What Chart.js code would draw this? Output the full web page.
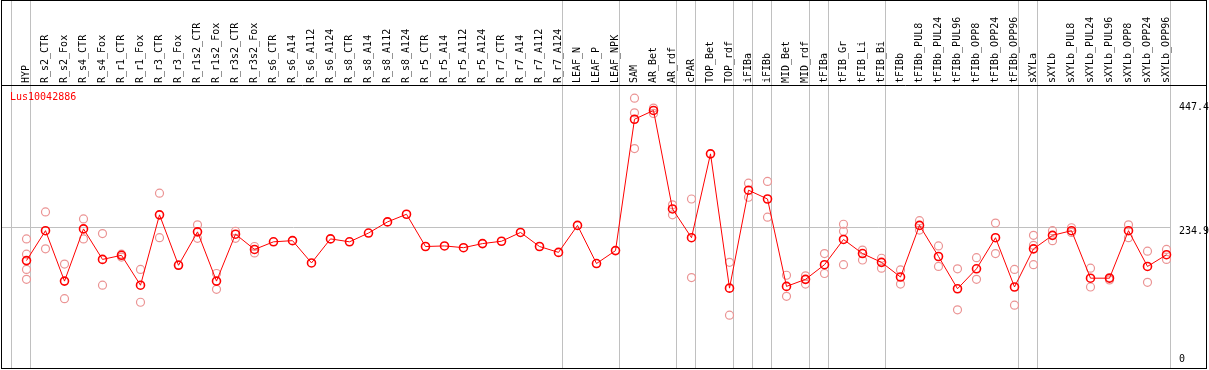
<!DOCTYPE html>
<html>
<head>
<meta charset="utf-8">
<script src="https://cdn.jsdelivr.net/npm/chart.js@4.4.1/dist/chart.umd.min.js"></script>
<style>
  html, body { margin: 0; padding: 0; background: #fff; }
  canvas { display: block; }
</style>
</head>
<body>
<canvas id="chart" width="1209" height="370"></canvas>
<script>
// sample names along the top
const categories = [
    'HYP', 'R_s2_CTR', 'R_s2_Fox', 'R_s4_CTR', 'R_s4_Fox', 'R_r1_CTR', 'R_r1_Fox', 'R_r3_CTR', 'R_r3_Fox',
    'R_r1s2_CTR', 'R_r1s2_Fox', 'R_r3s2_CTR', 'R_r3s2_Fox', 'R_s6_CTR', 'R_s6_A14', 'R_s6_A112', 'R_s6_A124',
    'R_s8_CTR', 'R_s8_A14', 'R_s8_A112', 'R_s8_A124', 'R_r5_CTR', 'R_r5_A14', 'R_r5_A112', 'R_r5_A124',
    'R_r7_CTR', 'R_r7_A14', 'R_r7_A112', 'R_r7_A124', 'LEAF_N', 'LEAF_P', 'LEAF_NPK', 'SAM', 'AR_Bet', 'AR_rdf',
    'cPAR', 'TOP_Bet', 'TOP_rdf', 'iFIBa', 'iFIBb', 'MID_Bet', 'MID_rdf', 'tFIBa', 'tFIB_Gr', 'tFIB_Li', 'tFIB_Bi',
    'tFIBb', 'tFIBb_PUL8', 'tFIBb_PUL24', 'tFIBb_PUL96', 'tFIBb_OPP8', 'tFIBb_OPP24', 'tFIBb_OPP96',
    'sXYLa', 'sXYLb', 'sXYLb_PUL8', 'sXYLb_PUL24', 'sXYLb_PUL96', 'sXYLb_OPP8', 'sXYLb_OPP24', 'sXYLb_OPP96'
];
// mean expression per sample
const means = [
    177, 228, 142, 231, 179, 186, 135, 255, 169, 226, 142, 222, 196, 209, 211, 173, 214,
    209, 224, 243, 256, 201, 202, 199, 206, 210, 225, 201, 191, 237, 172, 194, 418, 433, 265,
    216, 359, 130, 297, 282, 133, 145, 170, 213, 189, 174, 149, 237, 184, 129, 163, 216, 132,
    197, 220, 228, 147, 147, 228, 167, 187
];
// single replicates (light dots)
const replicates = [
    [214, 188, 162, 145], [260, 197], [171, 112], [248, 214], [223, 135], [188, 183], [162, 106], [292, 216], [170],
    [238, 215], [155, 128], [227, 215], [201, 190], [], [], [], [],
    [], [], [], [], [], [], [], [],
    [], [], [], [], [], [], [], [454, 429, 368], [437, 428], [272, 255],
    [282, 148], [], [174, 84], [309, 285], [312, 251], [152, 116], [151, 137], [189, 155], [239, 227, 170], [195, 178], [181, 164],
    [161, 137], [245, 229], [202, 167], [163, 93], [182, 145], [241, 189], [162, 101],
    [220, 203, 170], [228, 211], [233, 225], [164, 132], [148, 144], [238, 216], [193, 140], [196, 179]
];
const yTicks = [0, 234.9, 447.4];
const seriesName = 'Lus10042886';
// grey separators are drawn after these samples
const groupEnds = ['HYP', 'R_r7_A124', 'LEAF_NPK', 'AR_rdf', 'cPAR', 'TOP_rdf', 'iFIBa', 'iFIBb', 'MID_rdf',
    'tFIBa', 'tFIB_Bi', 'tFIBb_OPP96', 'sXYLa', 'sXYLb_OPP96'];

const FONT = '"DejaVu Sans Mono", "Liberation Mono", monospace';

let repPoints = [];
categories.forEach((c, i) => {
    replicates[i].forEach(v => repPoints.push({ x: c, y: v }));
});

// frame, separators, reference line and series name
const framePlugin = {
    id: 'frame',
    beforeDatasetsDraw (chart) {
        const { ctx } = chart;
        const x = chart.scales.x;
        const y = chart.scales.y;
        const bottom = 369;
        function line (x1, y1, x2, y2) {
            ctx.beginPath();
            ctx.moveTo(x1, y1);
            ctx.lineTo(x2, y2);
            ctx.stroke();
        }
        ctx.save();
        ctx.lineWidth = 1;
        ctx.strokeStyle = '#c0c0c0';
        let seps = [-1].concat(groupEnds.map(c => categories.indexOf(c)));
        let rightEdge = 0;
        seps.forEach(i => {
            const px = Math.round(x.getPixelForValue(i) + 3.5) + 0.5;
            rightEdge = Math.max(rightEdge, px);
            line(px, 0, px, bottom);
        });
        const gy = Math.round(y.getPixelForValue(yTicks[1])) + 0.5;
        line(1, gy, rightEdge, gy);

        ctx.strokeStyle = '#000';
        ctx.strokeRect(1.5, 0.5, 1205, 368);
        line(1, 85.5, 1207, 85.5);

        ctx.fillStyle = '#ff0000';
        ctx.font = '10px ' + FONT;
        ctx.textBaseline = 'middle';
        ctx.textAlign = 'left';
        ctx.fillText(chart.data.datasets[0].label, 10, 97);
        ctx.restore();
    }
};

const ctx = document.getElementById('chart');
new Chart(ctx, {
    type: 'line',
    data: {
        labels: categories,
        datasets: [{
            label: seriesName,
            data: means,
            borderColor: '#ff0000',
            borderWidth: 1,
            pointRadius: 4,
            pointBorderWidth: 1.6,
            pointBorderColor: '#ff0000',
            pointBackgroundColor: 'rgba(255,255,255,0)',
            tension: 0,
            clip: false,
            order: 0
        }, {
            label: 'replicates',
            data: repPoints,
            showLine: false,
            pointRadius: 4,
            pointBorderWidth: 1.2,
            pointBorderColor: '#eb9494',
            pointBackgroundColor: 'rgba(255,255,255,0)',
            clip: false,
            order: 1
        }]
    },
    options: {
        responsive: false,
        animation: false,
        devicePixelRatio: 1,
        layout: { padding: { left: 26.5, right: 0, top: 0, bottom: 2.7 } },
        plugins: {
            legend: { display: false },
            tooltip: { enabled: false }
        },
        scales: {
            x: {
                position: 'top',
                offset: false,
                grid: { display: false, drawTicks: false },
                border: { display: false },
                ticks: {
                    autoSkip: false,
                    maxRotation: 90,
                    minRotation: 90,
                    padding: 19,
                    labelOffset: 12,
                    color: '#000',
                    font: { family: FONT, size: 10 }
                },
                afterFit: s => {
                    s.height = 102;
                    s.paddingLeft = 0;
                    s.paddingRight = 0;
                }
            },
            y: {
                position: 'right',
                min: 0,
                max: yTicks[2],
                grid: { display: false, drawTicks: false },
                border: { display: false },
                afterBuildTicks: s => { s.ticks = yTicks.map(v => ({ value: v })); },
                ticks: {
                    padding: 12.5,
                    color: '#000',
                    font: { family: FONT, size: 10, lineHeight: 1 },
                    callback: v => (v === 0 ? ['0', ''] : ['', String(v)])
                },
                afterFit: s => {
                    s.width = 42.5;
                    s.paddingTop = 0;
                    s.paddingBottom = 0;
                }
            }
        }
    },
    plugins: [framePlugin]
});
</script>
</body>
</html>
